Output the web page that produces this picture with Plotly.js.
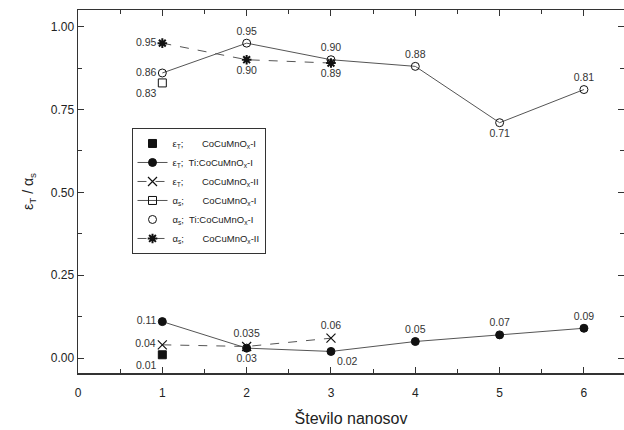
<!DOCTYPE html>
<html><head><meta charset="utf-8">
<script src="https://cdn.plot.ly/plotly-3.0.1.min.js"></script>
<style>body{margin:0;background:#fff}#c{width:624px;height:430px}</style>
</head><body><div id="c"></div>
<script>
const coats = [1, 2, 3, 4, 5, 6];
const epsCoCuI = [0.01];
const epsTiI = [0.11, 0.03, 0.02, 0.05, 0.07, 0.09];
const epsCoCuII = [0.04, 0.035, 0.06];
const alphaCoCuI = [0.83];
const alphaTiI = [0.86, 0.95, 0.90, 0.88, 0.71, 0.81];
const alphaCoCuII = [0.95, 0.90, 0.89];
const lblEpsCoCuI = ['0.01'];
const lblEpsTiI = ['0.11', '0.03', '0.02', '0.05', '0.07', '0.09'];
const lblEpsCoCuII = ['0.04', '0.035', '0.06'];
const lblAlphaCoCuI = ['0.83'];
const lblAlphaTiI = ['0.86', '0.95', '0.90', '0.88', '0.71', '0.81'];
const lblAlphaCoCuII = ['0.95', '0.90', '0.89'];
const names = [
  'ε<sub>T</sub>;       CoCuMnO<sub>x</sub>-I',
  'ε<sub>T</sub>;  Ti:CoCuMnO<sub>x</sub>-I',
  'ε<sub>T</sub>;       CoCuMnO<sub>x</sub>-II',
  'α<sub>s</sub>;       CoCuMnO<sub>x</sub>-I',
  'α<sub>s</sub>;  Ti:CoCuMnO<sub>x</sub>-I',
  'α<sub>s</sub>;       CoCuMnO<sub>x</sub>-II'
];
const lc = '#555';
const ff = 'Liberation Sans, Arial, sans-serif';
const tf = {family: ff, size: 10.5, color: '#333'};
function tr(y, n, name, mode, sym, pos, lbl, dash) {
  const ast = sym.indexOf('asterisk') >= 0;
  return {
    x: coats.slice(0, n), y: y, name: name, mode: mode,
    text: lbl, textposition: pos, textfont: tf, cliponaxis: false,
    line: {color: lc, width: 1, dash: dash || 'solid'},
    marker: {symbol: sym, size: 8, color: '#111',
             line: {color: '#111', width: ast ? 2 : 1}}
  };
}
const data = [
  tr(epsCoCuI, 1, names[0], 'markers+text', 'square', ['bottom left'], lblEpsCoCuI),
  tr(epsTiI, 6, names[1], 'lines+markers+text', 'circle',
     ['middle left', 'bottom center', 'bottom right', 'top center', 'top center', 'top center'], lblEpsTiI),
  tr(epsCoCuII, 3, names[2], 'lines+markers+text', 'x-thin-open',
     ['middle left', 'top center', 'top center'], lblEpsCoCuII, 'dash'),
  tr(alphaCoCuI, 1, names[3], 'lines+markers+text', 'square-open', ['bottom left'], lblAlphaCoCuI),
  tr(alphaTiI, 6, names[4], 'markers+text', 'circle-open',
     ['middle left', 'top center', 'top center', 'top center', 'bottom center', 'top center'], lblAlphaTiI),
  tr(alphaCoCuII, 3, names[5], 'lines+markers+text', 'asterisk-open',
     ['middle left', 'bottom center', 'bottom center'], lblAlphaCoCuII, 'dash')
];
data[2].marker.line.width = 1.2; data[2].marker.size = 9;
// connecting line of the open-circle series (legend shows marker only)
data.unshift({x: coats, y: alphaTiI, mode: 'lines', showlegend: false, hoverinfo: 'skip',
              line: {color: lc, width: 1}});
const axFont = {family: ff, size: 12, color: '#222'};
const layout = {
  width: 624, height: 430,
  margin: {l: 78, r: 0, t: 10, b: 57},
  paper_bgcolor: '#fff', plot_bgcolor: '#fff',
  font: axFont,
  showlegend: true,
  legend: {x: 0.098, y: 0.675, xanchor: 'left', yanchor: 'top',
           bordercolor: '#333', borderwidth: 1, bgcolor: '#fff',
           font: {family: ff, size: 9.5, color: '#222'},
           tracegroupgap: 0, itemwidth: 30},
  xaxis: {range: [0, 6.475], dtick: 1, tick0: 0, ticks: 'inside', ticklen: 6, tickcolor: '#333',
          showline: true, linecolor: '#333', linewidth: 1.5, mirror: 'allticks', zeroline: false, showgrid: false,
          minor: {dtick: 0.5, ticks: 'inside', ticklen: 4, tickcolor: '#333'},
          tickfont: axFont, ticklabelstandoff: 8,
          title: {text: 'Število nanosov', font: {family: ff, size: 16, color: '#222'}, standoff: 14}},
  yaxis: {range: [-0.045, 1.05], dtick: 0.25, tick0: 0, tickformat: '.2f', ticks: 'inside', ticklen: 6, tickcolor: '#333',
          showline: true, linecolor: '#333', linewidth: 1.5, mirror: 'allticks', zeroline: false, showgrid: false,
          minor: {dtick: 0.125, ticks: 'inside', ticklen: 4, tickcolor: '#333'},
          tickfont: axFont,
          title: {text: 'ε<sub>T</sub> / α<sub>s</sub>', font: {family: ff, size: 14, color: '#222'}, standoff: 14}}
};
Plotly.newPlot('c', data, layout, {displayModeBar: false, staticPlot: true});
</script></body></html>
